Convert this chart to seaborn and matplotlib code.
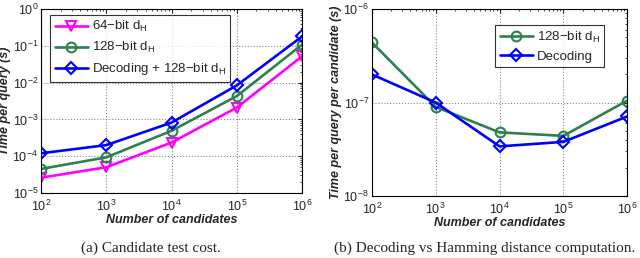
import numpy as np
import pandas as pd
import matplotlib
matplotlib.use("Agg")
import matplotlib.pyplot as plt
import seaborn as sns
from matplotlib.ticker import LogLocator, NullFormatter

candidates = [1e2, 1e3, 1e4, 1e5, 1e6]

# (a) time per query (s)
t64 = [2.6e-5, 5.0e-5, 2.35e-4, 2.1e-3, 0.052]
t128 = [4.5e-5, 9.3e-5, 4.9e-4, 4.3e-3, 0.108]
tdec128 = [1.2e-4, 2.0e-4, 8.2e-4, 8.4e-3, 0.18]

# (b) time per query per candidate (s)
c128 = [4.4e-7, 9.0e-8, 4.8e-8, 4.4e-8, 1.05e-7]
cdec = [2.0e-7, 1.0e-7, 3.4e-8, 3.8e-8, 7.1e-8]

labels_a = ["64\u2212bit d$_\\mathregular{H}$", "128\u2212bit d$_\\mathregular{H}$",
            "Decoding + 128\u2212bit d$_\\mathregular{H}$"]
labels_b = ["128\u2212bit d$_\\mathregular{H}$", "Decoding"]

sns.set_style("white")
plt.rcParams['font.family'] = ['Liberation Sans', 'DejaVu Sans']
plt.rcParams['mathtext.fontset'] = 'custom'
plt.rcParams['mathtext.rm'] = 'Liberation Sans'

MAG, GRN, BLU = "#ff00ff", "#2e8050", "#0000ff"

fig = plt.figure(figsize=(6.4, 2.58), dpi=100)
ax1 = fig.add_axes([0.064, 0.252, 0.408, 0.713])
ax2 = fig.add_axes([0.581, 0.240, 0.399, 0.725])

def style(ax):
    ax.set_xscale("log")
    ax.set_yscale("log")
    ax.set_xlim(1e2, 1e6)
    ax.grid(True, which="major", linestyle=":", color="#888888", linewidth=0.8)
    ax.tick_params(which="both", direction="in", top=True, right=True, labelsize=9)
    ax.tick_params(axis="x", pad=4)
    ax.tick_params(axis="y", pad=2)
    ax.tick_params(which="major", length=3)
    ax.tick_params(which="minor", length=1.5)
    ax.xaxis.set_major_locator(LogLocator(base=10, numticks=10))
    ax.xaxis.set_minor_locator(LogLocator(base=10, subs=np.arange(2, 10), numticks=20))
    ax.yaxis.set_minor_locator(LogLocator(base=10, subs=np.arange(2, 10), numticks=20))
    ax.xaxis.set_minor_formatter(NullFormatter())
    ax.yaxis.set_minor_formatter(NullFormatter())
    for s in ax.spines.values():
        s.set_color("black")
        s.set_linewidth(0.8)
    ax.set_xlabel("Number of candidates", fontsize=9, fontweight="bold", style="italic", labelpad=0)

series_a = [(t64, labels_a[0], MAG, "v"), (t128, labels_a[1], GRN, "o"), (tdec128, labels_a[2], BLU, "D")]
for vals, lab, col, mk in series_a:
    df = pd.DataFrame({"n": candidates, "t": vals})
    sns.lineplot(data=df, x="n", y="t", ax=ax1, color=col, marker=mk,
                 markersize=6 if mk == "D" else 7,
                 markerfacecolor="none", markeredgecolor=col, markeredgewidth=1.5,
                 linewidth=1.9, label=lab)
style(ax1)
ax1.set_ylim(1e-5, 1)
ax1.yaxis.set_major_locator(LogLocator(base=10, numticks=10))
ax1.set_ylabel("Time per query (s)", fontsize=9, fontweight="bold", style="italic", labelpad=1)
leg = ax1.legend(loc="upper left", fontsize=9.5, frameon=True, fancybox=False, edgecolor="black",
                 borderpad=0.35, labelspacing=0.45, handlelength=2.5, handletextpad=0.3,
                 borderaxespad=0, bbox_to_anchor=(0.035, 0.97))
leg.get_frame().set_linewidth(0.8)

series_b = [(c128, labels_b[0], GRN, "o"), (cdec, labels_b[1], BLU, "D")]
for vals, lab, col, mk in series_b:
    df = pd.DataFrame({"n": candidates, "t": vals})
    sns.lineplot(data=df, x="n", y="t", ax=ax2, color=col, marker=mk,
                 markersize=6 if mk == "D" else 7,
                 markerfacecolor="none", markeredgecolor=col, markeredgewidth=1.5,
                 linewidth=1.9, label=lab)
style(ax2)
ax2.set_ylim(1e-8, 1e-6)
ax2.yaxis.set_major_locator(LogLocator(base=10, numticks=10))
ax2.set_ylabel("Time per query per candidate (s)", fontsize=9, fontweight="bold", style="italic", labelpad=1)
leg2 = ax2.legend(loc="upper right", fontsize=9.5, frameon=True, fancybox=False, edgecolor="black",
                  borderpad=0.35, labelspacing=0.45, handlelength=2.5, handletextpad=0.3,
                  borderaxespad=0, bbox_to_anchor=(0.91, 0.915))
leg2.get_frame().set_linewidth(0.8)

fig.text(0.235, 0.025, "(a) Candidate test cost.", ha="center", fontsize=11, family="Liberation Serif")
fig.text(0.757, 0.025, "(b) Decoding vs Hamming distance computation.", ha="center", fontsize=11,
         family="Liberation Serif")

fig.savefig("out.png", dpi=100)
